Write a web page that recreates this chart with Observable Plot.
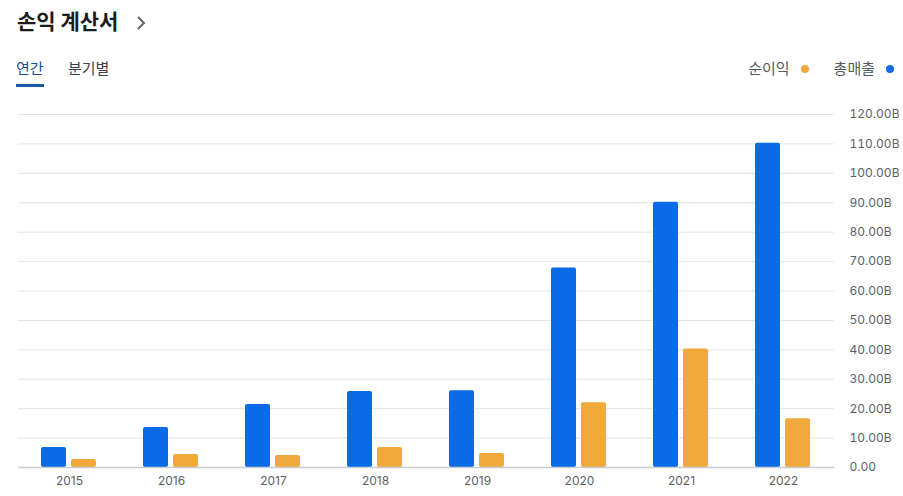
<!DOCTYPE html>
<html><head><meta charset="utf-8">
<script src="https://cdn.jsdelivr.net/npm/d3@7"></script>
<script src="https://cdn.jsdelivr.net/npm/@observablehq/plot@0.6"></script>
<style>
body{margin:0;background:#fff;font-family:Inter,"Noto Sans CJK KR",sans-serif;width:903px;height:496px;position:relative;overflow:hidden}
.t{position:absolute;white-space:nowrap}
#chart{position:absolute;left:0;top:100px}
</style></head><body>
<div class="t" style="left:17px;top:5px;font-size:21px;font-weight:700;color:#1b1c1e;font-family:'Noto Sans CJK KR',sans-serif">손익 계산서</div>
<svg class="t" style="left:134px;top:14px" width="14" height="18"><path d="M4 3 L10 9 L4 15" fill="none" stroke="#5f6570" stroke-width="2"/></svg>
<div class="t" style="left:16px;top:57px;font-size:15px;color:#1a4e96;font-family:'Noto Sans CJK KR',sans-serif">연간</div>
<div style="position:absolute;left:16px;top:84px;width:28px;height:3px;background:#1a5aa6"></div>
<div class="t" style="left:68px;top:57px;font-size:15px;color:#3c4048;font-family:'Noto Sans CJK KR',sans-serif">분기별</div>
<div class="t" id="legend" style="right:9px;top:57px;font-size:15px;color:#55595f;font-family:'Noto Sans CJK KR',sans-serif"></div>
<div id="chart"></div>
<script>
const years = ["2015","2016","2017","2018","2019","2020","2021","2022"];
const seriesNames = ["총매출","순이익"];
const revenue = [6.8, 13.6, 21.4, 25.8, 26.1, 67.8, 90.2, 110.2];
const netIncome = [2.7, 4.4, 4.1, 6.8, 4.8, 22.0, 40.3, 16.6];
const yTicks = [0,10,20,30,40,50,60,70,80,90,100,110,120];
const colors = ["#0b6be6","#f1a93b"];

const data = [];
years.forEach((y,i)=>{
  data.push({year:y, series:seriesNames[0], value:revenue[i]});
  data.push({year:y, series:seriesNames[1], value:netIncome[i]});
});

const legendEl = document.getElementById("legend");
legendEl.innerHTML = [[seriesNames[1],colors[1]],[seriesNames[0],colors[0]]].map(([n,c],i)=>
  `<span style="margin-left:${i?25:0}px">${n}</span><span style="display:inline-block;width:8px;height:8px;border-radius:50%;background:${c};margin-left:11px;vertical-align:1px"></span>`).join("");

const chart = Plot.plot({
  width: 903, height: 396,
  marginLeft: 16, marginRight: 68, marginTop: 14, marginBottom: 29,
  style: {fontFamily: "Inter, sans-serif", fontSize: "12px", color: "#5a5f66", background: "transparent"},
  fx: {domain: years, padding: 0, label: null},
  x: {domain: seriesNames, paddingInner: 0.161, paddingOuter: 0.726, axis: null},
  y: {domain: [0,120], label: null},
  color: {domain: seriesNames, range: colors},
  marks: [
    Plot.ruleY(yTicks.slice(1), {stroke: "#e3e3e3", strokeWidth: 1}),
    Plot.axisY({anchor: "right", ticks: yTicks, tickSize: 0, tickPadding: 15, label: null,
      tickFormat: d => d === 0 ? "0.00" : d.toFixed(2) + "B", fill: "#5a5f66"}),
    Plot.axisFx({anchor: "bottom", tickSize: 0, tickPadding: 9, label: null, fill: "#5a5f66"}),
    Plot.barY(data, {fx: "year", x: "series", y: "value", fill: "series", rx: 2}),
    Plot.ruleY([0], {stroke: "#c8ccd3", strokeWidth: 1.5})
  ]
});
document.getElementById("chart").appendChild(chart);
</script>
</body></html>
